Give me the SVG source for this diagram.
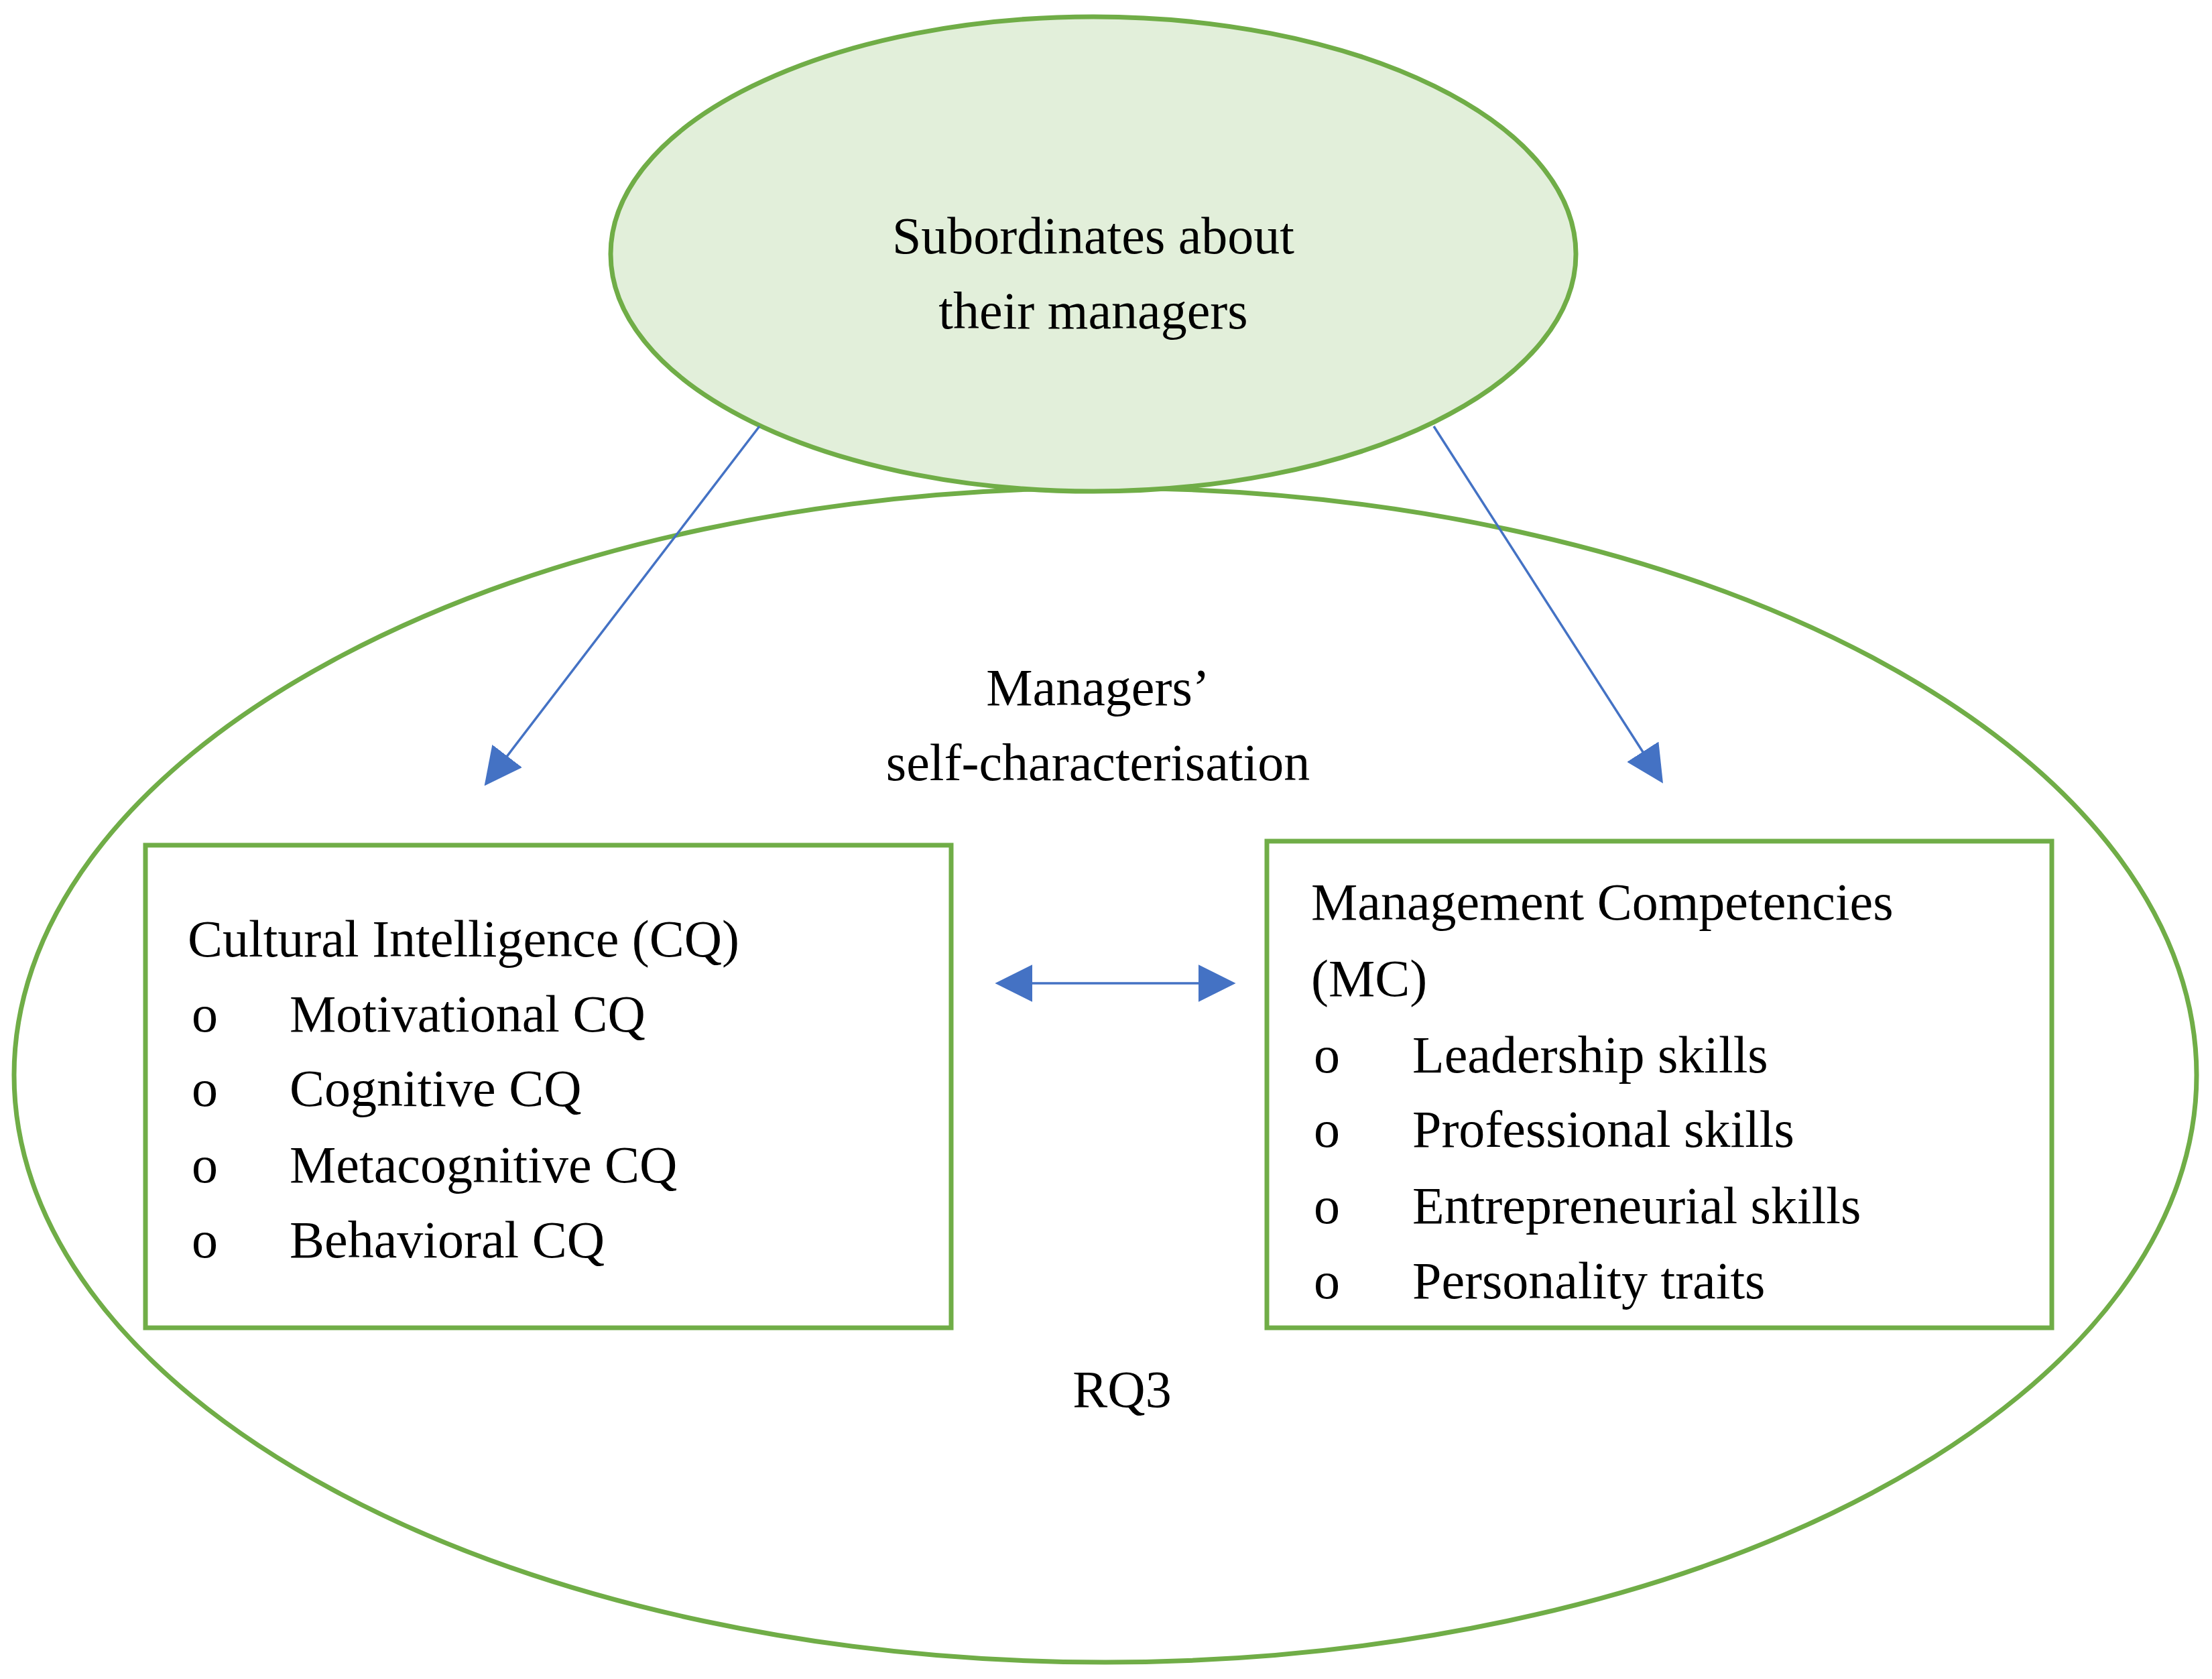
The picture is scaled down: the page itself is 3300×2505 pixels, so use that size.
<svg xmlns="http://www.w3.org/2000/svg" width="3300" height="2505" viewBox="0 0 3300 2505">
<style>
.g{fill:none;stroke:#70ad47;stroke-width:7}
.t{font-family:"Liberation Serif","DejaVu Serif",serif;font-size:78px;fill:#000}
.c{stroke:#4472c4;stroke-width:3.5;fill:none}
</style>
<defs>
<marker id="a" viewBox="0 0 10 10" refX="9" refY="5" markerWidth="14" markerHeight="14" markerUnits="userSpaceOnUse" orient="auto-start-reverse"><path d="M0,0L10,5L0,10z" fill="#4472c4"/></marker>
<marker id="b" viewBox="0 0 10 10" refX="9" refY="5" markerWidth="16" markerHeight="16" orient="auto-start-reverse"><path d="M0,0L10,5L0,10z" fill="#4472c4"/></marker>
</defs>
<rect width="3300" height="2505" fill="#fff"/>
<g id="outer"><ellipse class="g" cx="1649" cy="1604" rx="1628" ry="876"/>
<text class="t" x="1638" y="1052" text-anchor="middle">Managers’</text>
<text class="t" x="1638" y="1164" text-anchor="middle">self-characterisation</text>
<text class="t" x="1674" y="2099" text-anchor="middle">RQ3</text></g>
<g id="top"><ellipse cx="1631" cy="379" rx="720" ry="354" fill="#e2efda" stroke="#70ad47" stroke-width="7"/>
<text class="t" x="1631" y="378" text-anchor="middle">Subordinates about</text>
<text class="t" x="1631" y="490" text-anchor="middle">their managers</text></g>
<g id="cq"><rect class="g" x="217" y="1261" width="1202" height="720"/>
<text class="t" x="280" y="1427">Cultural Intelligence (CQ)</text>
<g class="t"><text x="286" y="1539">o</text><text x="286" y="1650">o</text><text x="286" y="1764">o</text><text x="286" y="1876">o</text>
<text x="432" y="1539">Motivational CQ</text><text x="432" y="1650">Cognitive CQ</text><text x="432" y="1764">Metacognitive CQ</text><text x="432" y="1876">Behavioral CQ</text></g></g>
<g id="mc"><rect class="g" x="1890" y="1255" width="1171" height="726"/>
<text class="t" x="1956" y="1372">Management  Competencies</text>
<text class="t" x="1956" y="1486">(MC)</text>
<g class="t"><text x="1960" y="1600">o</text><text x="1960" y="1711">o</text><text x="1960" y="1825">o</text><text x="1960" y="1937">o</text>
<text x="2107" y="1600">Leadership skills</text><text x="2107" y="1711">Professional skills</text><text x="2107" y="1825">Entrepreneurial skills</text><text x="2107" y="1937">Personality traits</text></g></g>
<g id="connectors">
<line class="c" x1="1133" y1="636" x2="726" y2="1168" marker-end="url(#b)"/>
<line class="c" x1="2139" y1="636" x2="2478" y2="1164" marker-end="url(#b)"/>
<line class="c" x1="1490" y1="1467" x2="1838" y2="1467" marker-start="url(#b)" marker-end="url(#b)"/>
</g>
</svg>
